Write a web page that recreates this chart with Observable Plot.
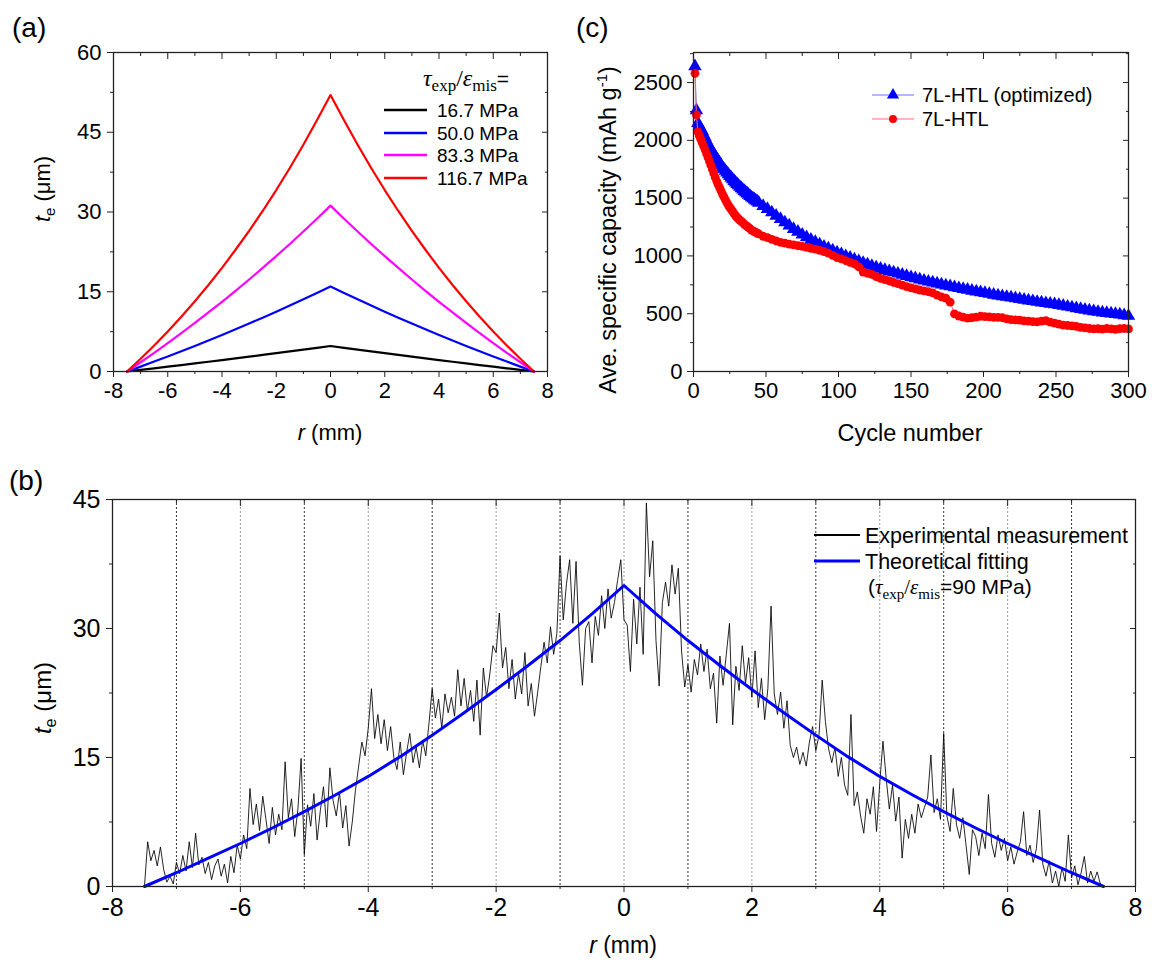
<!DOCTYPE html>
<html><head><meta charset="utf-8">
<script src="https://cdn.jsdelivr.net/npm/d3@7"></script>
<script src="https://cdn.jsdelivr.net/npm/@observablehq/plot@0.6"></script>
<style>
body{margin:0;background:#fff;}
#root{position:relative;width:1152px;height:963px;overflow:hidden;background:#fff;}
#root svg{position:absolute;}
</style></head><body><div id="root"></div>
<script>
// ---------- Panel (a) data ----------
const rA = [-7.5,-7,-6.5,-6,-5.5,-5,-4.5,-4,-3.5,-3,-2.5,-2,-1.5,-1,-0.5,0,0.5,1,1.5,2,2.5,3,3.5,4,4.5,5,5.5,6,6.5,7,7.5];
const aBlack = [0,0.30,0.60,0.90,1.21,1.52,1.83,2.15,2.47,2.79,3.12,3.45,3.78,4.12,4.46,4.8,4.46,4.12,3.78,3.45,3.12,2.79,2.47,2.15,1.83,1.52,1.21,0.90,0.60,0.30,0];
const aBlue = [0,0.92,1.87,2.83,3.81,4.81,5.83,6.87,7.93,9.02,10.13,11.25,12.40,13.58,14.78,16.0,14.78,13.58,12.40,11.25,10.13,9.02,7.93,6.87,5.83,4.81,3.81,2.83,1.87,0.92,0];
const aMagenta = [0,1.74,3.52,5.34,7.21,9.13,11.10,13.11,15.18,17.30,19.48,21.70,23.99,26.33,28.74,31.2,28.74,26.33,23.99,21.70,19.48,17.30,15.18,13.11,11.10,9.13,7.21,5.34,3.52,1.74,0];
const aRed = [0,2.39,4.90,7.53,10.31,13.22,16.27,19.50,22.90,26.45,30.19,34.13,38.28,42.65,47.25,52.0,47.25,42.65,38.28,34.13,30.19,26.45,22.90,19.50,16.27,13.22,10.31,7.53,4.90,2.39,0];
const aLegend = ["16.7 MPa","50.0 MPa","83.3 MPa","116.7 MPa"];
const aColors = ["#000000","#0000ff","#ff00ff","#ff0000"];

// ---------- Panel (c) data ----------
// cycles 1..45 individually, then every 3rd cycle 48..300
const cCycles = d3.range(1, 46).concat(d3.range(48, 301, 3));
const cBlue = [
2640,2260,2150,2125,2100,2080,2050,2025,1995,1967,
1945,1925,1903,1882,1860,1842,1823,1805,1786,1765,
1750,1735,1720,1705,1690,1676,1662,1648,1635,1622,
1610,1597,1585,1573,1561,1550,1539,1528,1517,1506,
1497,1488,1479,1470,1460,
1432,1405,1376,1347,1319,
1290,1262,1233,1208,1184,1161,1140,1120,1099,1080,
1063,1046,1030,1015,998,983,968,954,939,925,
913,900,888,877,867,857,846,836,825,815,
806,796,786,777,769,761,752,744,737,729,
721,713,706,698,691,685,678,671,664,657,
651,645,639,633,627,620,614,608,602,596,
591,586,581,575,568,561,554,547,540,533,
527,521,515,510,506,501,497,492,486,481];
const cRed = [
2580,2221,2074,2040,2010,1980,1950,1918,1885,1852,
1820,1785,1750,1714,1679,1648,1618,1590,1562,1535,
1510,1486,1462,1440,1420,1402,1385,1366,1349,1333,
1320,1309,1298,1287,1276,1265,1255,1245,1235,1224,
1217,1210,1203,1196,1190,
1170,1158,1143,1130,1117,
1110,1102,1096,1088,1082,1074,1066,1058,1048,1037,
1025,1005,985,975,960,945,930,905,860,850,
840,820,805,795,783,770,760,748,735,723,
715,705,697,690,680,660,645,635,600,498,
480,470,462,465,470,478,475,472,468,469,
465,455,448,446,444,438,435,432,430,435,
440,428,418,410,402,398,395,390,382,377,
372,368,370,366,372,368,365,370,372,368];
const cLegend = ["7L-HTL (optimized)","7L-HTL"];

// ---------- Panel (b) data ----------
const bStart = -7.5, bStep = 0.05;
const bMeasured = [
0.0,5.2,3.0,4.2,2.4,4.6,2.0,0.5,1.2,0.3,
2.8,1.5,3.6,1.8,5.2,2.2,6.2,2.5,3.4,1.5,
2.8,0.8,2.4,3.2,1.2,2.6,0.4,3.5,1.6,4.8,
3.2,6.0,4.4,11.4,7.2,9.6,6.5,10.5,7.8,5.0,
9.2,6.0,8.4,6.6,14.5,8.0,10.2,5.8,9.0,14.9,
3.7,9.5,7.0,10.8,5.4,8.8,11.6,6.9,13.8,10.0,
8.2,11.0,6.8,9.4,4.7,7.5,11.2,14.0,16.8,15.2,
18.4,23.0,17.2,20.0,16.6,19.4,15.8,18.6,15.0,13.6,
16.8,13.0,15.6,17.8,14.4,16.2,13.8,17.0,15.2,19.0,
23.0,19.6,21.8,18.4,22.4,20.2,22.0,19.8,25.2,21.0,
24.2,20.4,22.8,19.2,24.0,17.6,25.4,22.0,24.6,28.0,
27.2,31.8,25.4,27.8,23.0,26.4,21.8,24.8,22.4,27.2,
21.0,23.6,19.8,22.6,25.6,28.4,26.0,30.2,27.0,29.4,
38.4,31.0,35.2,38.0,30.6,37.8,28.4,23.4,30.0,30.8,
26.0,31.4,29.2,33.8,30.0,34.6,31.2,33.0,35.6,38.0,
31.0,30.4,25.0,33.4,28.2,34.8,27.0,44.6,36.0,40.2,
28.6,23.3,33.0,35.4,32.6,37.4,34.0,37.0,27.4,23.2,
25.8,22.6,26.4,24.6,28.2,25.0,27.6,23.0,24.8,19.0,
26.8,23.4,27.0,30.6,18.8,25.6,22.8,28.0,23.6,26.6,
22.0,27.4,20.8,24.2,19.4,23.0,32.6,22.4,20.0,22.6,
18.4,21.6,16.4,15.0,16.2,14.2,15.6,14.0,16.8,18.6,
15.8,17.6,24.0,19.2,16.0,14.4,16.2,12.8,15.0,11.8,
10.6,20.0,9.4,11.0,8.2,6.2,10.2,8.4,11.6,6.4,
12.0,16.9,12.6,9.0,11.8,7.6,10.4,3.3,7.8,5.6,
8.4,6.2,9.6,8.0,9.2,10.4,15.3,8.6,10.2,7.8,
17.8,8.2,6.4,11.4,7.2,5.6,8.0,4.8,1.4,6.6,
5.8,3.6,6.2,4.4,10.7,5.0,3.4,6.0,4.2,5.6,
3.0,4.6,2.6,4.0,5.2,8.7,3.6,4.8,2.8,4.4,
8.9,2.6,1.2,3.0,0.4,1.8,0.0,2.2,0.6,6.0,
1.0,2.4,0.2,1.6,3.5,0.4,1.8,0.6,1.7,0.3,
0.0];
const bFitR = [-7.5,-7,-6.5,-6,-5.5,-5,-4.5,-4,-3.5,-3,-2.5,-2,-1.5,-1,-0.5,0,0.5,1,1.5,2,2.5,3,3.5,4,4.5,5,5.5,6,6.5,7,7.5];
const bFit = [0,1.6,3.3,5.0,6.8,8.7,10.7,12.8,15.1,17.6,20.2,22.9,25.7,28.6,31.7,35.0,31.7,28.6,25.7,22.9,20.2,17.6,15.1,12.8,10.7,8.7,6.8,5.0,3.3,1.6,0];
const bGridDark = [-7,-5,-3,-1,1,3,5,7];
const bGridLight = [-6,-4,-2,0,2,4,6];

// ---------- tick values ----------
const rTicks = [-8,-6,-4,-2,0,2,4,6,8];
const rMinor = [-7,-5,-3,-1,1,3,5,7];
const aYTicks = [0,15,30,45,60];
const aYMinor = [7.5,22.5,37.5,52.5];
const bYTicks = [0,15,30,45];
const bYMinor = [7.5,22.5,37.5];
const cXTicks = [0,50,100,150,200,250,300];
const cXMinor = [25,75,125,175,225,275];
const cYTicks = [0,500,1000,1500,2000,2500];
const cYMinor = [250,750,1250,1750,2250,2750];

const FONT = "'Liberation Sans', Arial, sans-serif";
const AX = "#222";
const fmt = d => String(d);

function boxAxes(xt, xm, yt, ym, padX, padY) {
  return [
    Plot.frame({stroke: AX, strokeWidth: 1.3}),
    Plot.axisX(xt, {anchor: "bottom", tickSize: 6, tickPadding: padX, tickFormat: fmt, label: null, stroke: AX, fill: "#000"}),
    Plot.axisX(xm, {anchor: "bottom", tickSize: 3, fill: "none", label: null, stroke: AX}),
    Plot.axisX(xt, {anchor: "top", tickSize: -6, fill: "none", label: null, stroke: AX}),
    Plot.axisX(xm, {anchor: "top", tickSize: -3, fill: "none", label: null, stroke: AX}),
    Plot.axisY(yt, {anchor: "left", tickSize: 6, tickPadding: padY, tickFormat: fmt, label: null, stroke: AX, fill: "#000"}),
    Plot.axisY(ym, {anchor: "left", tickSize: 3, fill: "none", label: null, stroke: AX}),
    Plot.axisY(yt, {anchor: "right", tickSize: -6, fill: "none", label: null, stroke: AX}),
    Plot.axisY(ym, {anchor: "right", tickSize: -3, fill: "none", label: null, stroke: AX})
  ];
}
function setTickFont(svg, size) {
  d3.select(svg).selectAll("text")
    .attr("font-size", size).style("font-size", size + "px").style("font-family", FONT);
}
const style = {fontFamily: FONT, fontSize: "22px", color: "#000", background: "transparent", overflow: "visible"};
const root = document.getElementById("root");

// ---------- Panel (a) ----------
const plotA = Plot.plot({
  width: 570, height: 450, marginLeft: 113, marginRight: 23, marginTop: 52, marginBottom: 79,
  style,
  x: {domain: [-8, 8]}, y: {domain: [0, 60]},
  marks: [
    ...[aBlack, aBlue, aMagenta, aRed].map((vals, k) =>
      Plot.line(rA.map((r, i) => [r, vals[i]]), {stroke: aColors[k], strokeWidth: 2.2})),
    ...boxAxes(rTicks, rMinor, aYTicks, aYMinor, 5, 6)
  ]
});
setTickFont(plotA, 22);
plotA.style.left = "0px"; plotA.style.top = "0px";
root.appendChild(plotA);

// ---------- Panel (c) ----------
const blueC = cCycles.map((c, i) => [c, cBlue[i]]);
const redC = cCycles.map((c, i) => [c, cRed[i]]);
const plotC = Plot.plot({
  width: 582, height: 450, marginLeft: 123, marginRight: 24, marginTop: 52, marginBottom: 79,
  style,
  x: {domain: [0, 300]}, y: {domain: [0, 2760]},
  marks: [
    Plot.line(blueC, {stroke: "#6f6fff", strokeWidth: 1}),
    Plot.dot(blueC, {symbol: "triangle", fill: "#0000ff", r: 5, stroke: "none"}),
    Plot.line(redC, {stroke: "#ff6f6f", strokeWidth: 1}),
    Plot.dot(redC, {symbol: "circle", fill: "#ff0000", r: 4.4, stroke: "none"}),
    ...boxAxes(cXTicks, cXMinor, cYTicks, cYMinor, 5, 5)
  ]
});
setTickFont(plotC, 22);
plotC.style.left = "570px"; plotC.style.top = "0px";
root.appendChild(plotC);

// ---------- Panel (b) ----------
const measured = bMeasured.map((v, i) => [bStart + i * bStep, v]);
const plotB = Plot.plot({
  width: 1152, height: 513, marginLeft: 112, marginRight: 17, marginTop: 49, marginBottom: 77,
  style,
  x: {domain: [-8, 8]}, y: {domain: [0, 45]},
  marks: [
    Plot.ruleX(bGridLight, {stroke: "#9a9a9a", strokeWidth: 1, strokeDasharray: "2,2"}),
    Plot.ruleX(bGridDark, {stroke: "#333", strokeWidth: 1, strokeDasharray: "2,2"}),
    Plot.line(measured, {stroke: "#000", strokeWidth: 0.85}),
    Plot.line(bFitR.map((r, i) => [r, bFit[i]]), {stroke: "#0000ff", strokeWidth: 3}),
    ...boxAxes(rTicks, rMinor, bYTicks, bYMinor, 6, 6)
  ]
});
setTickFont(plotB, 25);
plotB.style.left = "0px"; plotB.style.top = "450px";
root.appendChild(plotB);

// ---------- overlay: panel letters, axis titles, legends ----------
const ov = d3.select(root).append("svg").attr("width", 1152).attr("height", 963)
  .style("left", "0px").style("top", "0px").style("font-family", FONT).attr("fill", "#000");

function txt(x, y, s, size, anchor) {
  return ov.append("text").attr("x", x).attr("y", y).attr("font-size", size)
    .attr("text-anchor", anchor || "start").text(s);
}
txt(12, 37, "(a)", 28);
txt(576, 37, "(c)", 28);
txt(9, 490, "(b)", 28);

function teLabel(cx, cy, fs) {
  const t = ov.append("text").attr("transform", `translate(${cx},${cy}) rotate(-90)`)
    .attr("text-anchor", "middle").attr("font-size", fs);
  t.append("tspan").attr("font-style", "italic").text("t");
  t.append("tspan").attr("font-size", fs * 0.68).attr("dy", 5).text("e");
  t.append("tspan").attr("dy", -5).text(" (μm)");
}
teLabel(50, 189, 22);
teLabel(51, 698, 24);

function rLabel(cx, y, fs) {
  const t = ov.append("text").attr("x", cx).attr("y", y).attr("text-anchor", "middle").attr("font-size", fs);
  t.append("tspan").attr("font-style", "italic").text("r");
  t.append("tspan").text(" (mm)");
}
rLabel(330, 440, 22);
rLabel(623, 953, 23);
txt(910, 441, "Cycle number", 23.5, "middle");
{
  const t = ov.append("text").attr("transform", "translate(616,230) rotate(-90)")
    .attr("text-anchor", "middle").attr("font-size", 23.5);
  t.append("tspan").text("Ave. specific capacity (mAh g");
  t.append("tspan").attr("font-size", 15).attr("dy", -9).text("-1");
  t.append("tspan").attr("dy", 9).text(")");
}

const SERIF = "'Liberation Serif', 'DejaVu Serif', serif";
// legend (a)
{
  const t = ov.append("text").attr("x", 423).attr("y", 86).attr("font-size", 24).attr("font-family", SERIF);
  t.append("tspan").attr("font-style", "italic").text("τ");
  t.append("tspan").attr("font-size", 17).attr("dy", 5).text("exp");
  t.append("tspan").attr("dy", -5).text("/");
  t.append("tspan").attr("font-style", "italic").text("ε");
  t.append("tspan").attr("font-size", 17).attr("dy", 5).text("mis");
  t.append("tspan").attr("dy", -5).attr("font-family", FONT).attr("font-size", 21).text("=");
}
const aRows = [110, 133, 155, 178];
aRows.forEach((y, k) => {
  ov.append("line").attr("x1", 384).attr("x2", 427).attr("y1", y).attr("y2", y)
    .attr("stroke", aColors[k]).attr("stroke-width", 2.4);
  txt(437, y + 7, aLegend[k], 19);
});
// legend (c)
[[95, "#6f6fff", "#0000ff", "triangle"], [119, "#ff6f6f", "#ff0000", "circle"]].forEach(([y, lc, mc, sym], k) => {
  ov.append("line").attr("x1", 872).attr("x2", 914).attr("y1", y).attr("y2", y)
    .attr("stroke", lc).attr("stroke-width", 1);
  ov.append("path").attr("transform", `translate(893,${y})`)
    .attr("d", d3.symbol(sym === "triangle" ? d3.symbolTriangle : d3.symbolCircle, sym === "triangle" ? 64 : 50)())
    .attr("fill", mc);
  txt(922, y + 7, cLegend[k], 20);
});
// legend (b)
ov.append("line").attr("x1", 814).attr("x2", 860).attr("y1", 535).attr("y2", 535).attr("stroke", "#000").attr("stroke-width", 2);
ov.append("line").attr("x1", 814).attr("x2", 860).attr("y1", 561).attr("y2", 561).attr("stroke", "#0000ff").attr("stroke-width", 3);
txt(865, 543, "Experimental measurement", 21.5);
txt(865, 569, "Theoretical fitting", 21.5);
{
  const t = ov.append("text").attr("x", 868).attr("y", 594).attr("font-size", 21);
  t.append("tspan").text("(");
  t.append("tspan").attr("font-family", SERIF).attr("font-style", "italic").text("τ");
  t.append("tspan").attr("font-family", SERIF).attr("font-size", 15).attr("dy", 5).text("exp");
  t.append("tspan").attr("font-family", SERIF).attr("dy", -5).text("/");
  t.append("tspan").attr("font-family", SERIF).attr("font-style", "italic").text("ε");
  t.append("tspan").attr("font-family", SERIF).attr("font-size", 15).attr("dy", 5).text("mis");
  t.append("tspan").attr("dy", -5).text("=90 MPa)");
}
</script></body></html>
